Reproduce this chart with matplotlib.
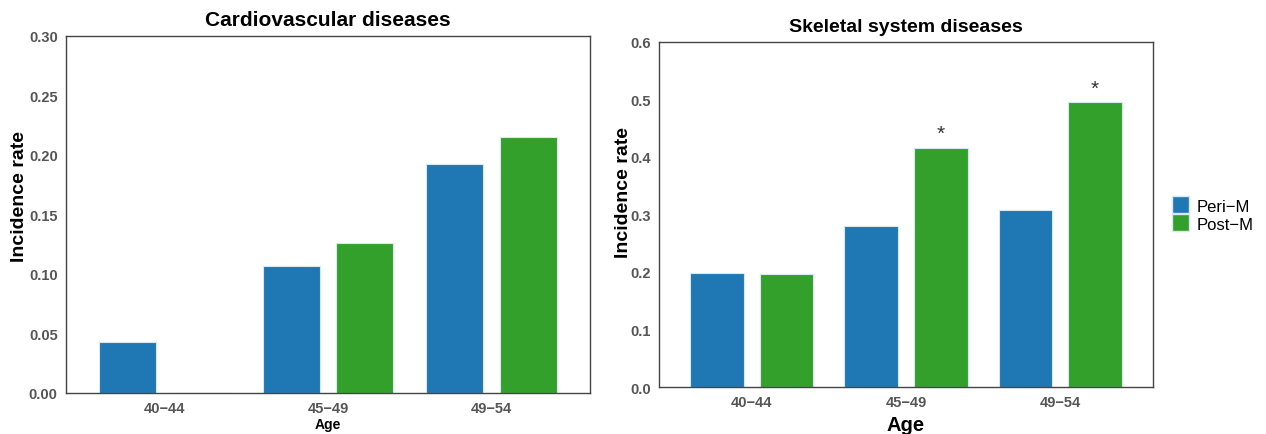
import matplotlib
matplotlib.use("Agg")
import matplotlib.pyplot as plt
import numpy as np
from matplotlib.patches import Patch

plt.rcParams['font.family'] = ['Liberation Sans', 'DejaVu Sans']

age_groups = ["40\u221244", "45\u221249", "49\u221254"]
series_names = ["Peri\u2212M", "Post\u2212M"]
cardio_peri = [0.0425, 0.1065, 0.1922]
cardio_post = [0.0, 0.1264, 0.2155]
skeletal_peri = [0.199, 0.280, 0.307]
skeletal_post = [0.197, 0.416, 0.495]
skeletal_signif = [False, True, True]
cardio_yticks = [0.00, 0.05, 0.10, 0.15, 0.20, 0.25, 0.30]
skeletal_yticks = [0.0, 0.1, 0.2, 0.3, 0.4, 0.5, 0.6]

blue = '#1f77b4'
green = '#33a02c'
edge = '#d8e8f0'
tick_gray = '#555555'

fig = plt.figure(figsize=(12.66, 4.35), dpi=100)
ax1 = fig.add_axes([66/1266, 1-394/435, (590-66)/1266, (394-37)/435])
ax2 = fig.add_axes([659/1266, 1-388/435, (1153-659)/1266, (388-43)/435])

x = np.arange(len(age_groups))
w = 0.347
off = 0.225

def style(ax, yticks, fmt, ylim):
    ax.set_xlim(-0.6, 2.6)
    ax.set_ylim(0, ylim)
    ax.set_yticks(yticks)
    ax.set_yticklabels([fmt.format(v) for v in yticks])
    ax.set_xticks(x)
    ax.set_xticklabels(age_groups)
    ax.tick_params(length=0, pad=6)
    for lab in ax.get_xticklabels() + ax.get_yticklabels():
        lab.set_color(tick_gray)
        lab.set_fontweight('bold')
        lab.set_fontsize(10.5)
    for s in ax.spines.values():
        s.set_color('#444444')
        s.set_linewidth(1.0)

ax1.bar(x - off, cardio_peri, w, color=blue, edgecolor=edge, linewidth=0.8)
ax1.bar(x + off, cardio_post, w, color=green, edgecolor=edge, linewidth=0.8)
style(ax1, cardio_yticks, "{:.2f}", 0.30)
ax1.set_title("Cardiovascular diseases", fontsize=15, fontweight='bold', pad=8)
ax1.set_ylabel("Incidence rate", fontsize=14, fontweight='bold')
ax1.yaxis.set_label_coords(-0.0725, 0.552)
ax1.set_xlabel("Age", fontsize=10, fontweight='bold', labelpad=1)

ax2.bar(x - off, skeletal_peri, w, color=blue, edgecolor=edge, linewidth=0.8)
ax2.bar(x + off, skeletal_post, w, color=green, edgecolor=edge, linewidth=0.8)
style(ax2, skeletal_yticks, "{:.1f}", 0.6)
for xi, v, sig in zip(x, skeletal_post, skeletal_signif):
    if sig:
        ax2.text(xi + off, v + 0.008, "*", ha='center', va='bottom', fontsize=15, color='#333333')
ax2.set_title("Skeletal system diseases", fontsize=14, fontweight='bold', pad=8)
ax2.set_ylabel("Incidence rate", fontsize=14, fontweight='bold')
ax2.yaxis.set_label_coords(-0.0547, 0.568)
ax2.set_xlabel("Age", fontsize=14.5, fontweight='bold', labelpad=4)

handles = [Patch(facecolor=blue, edgecolor=edge), Patch(facecolor=green, edgecolor=edge)]
fig.legend(handles, series_names, loc='center left', bbox_to_anchor=(1172/1266, 1-215/435),
           frameon=False, fontsize=12, handlelength=1.0, handleheight=1.2,
           handletextpad=0.5, labelspacing=0.05, borderpad=0, borderaxespad=0)

fig.savefig("out.png", dpi=100, facecolor='white')
